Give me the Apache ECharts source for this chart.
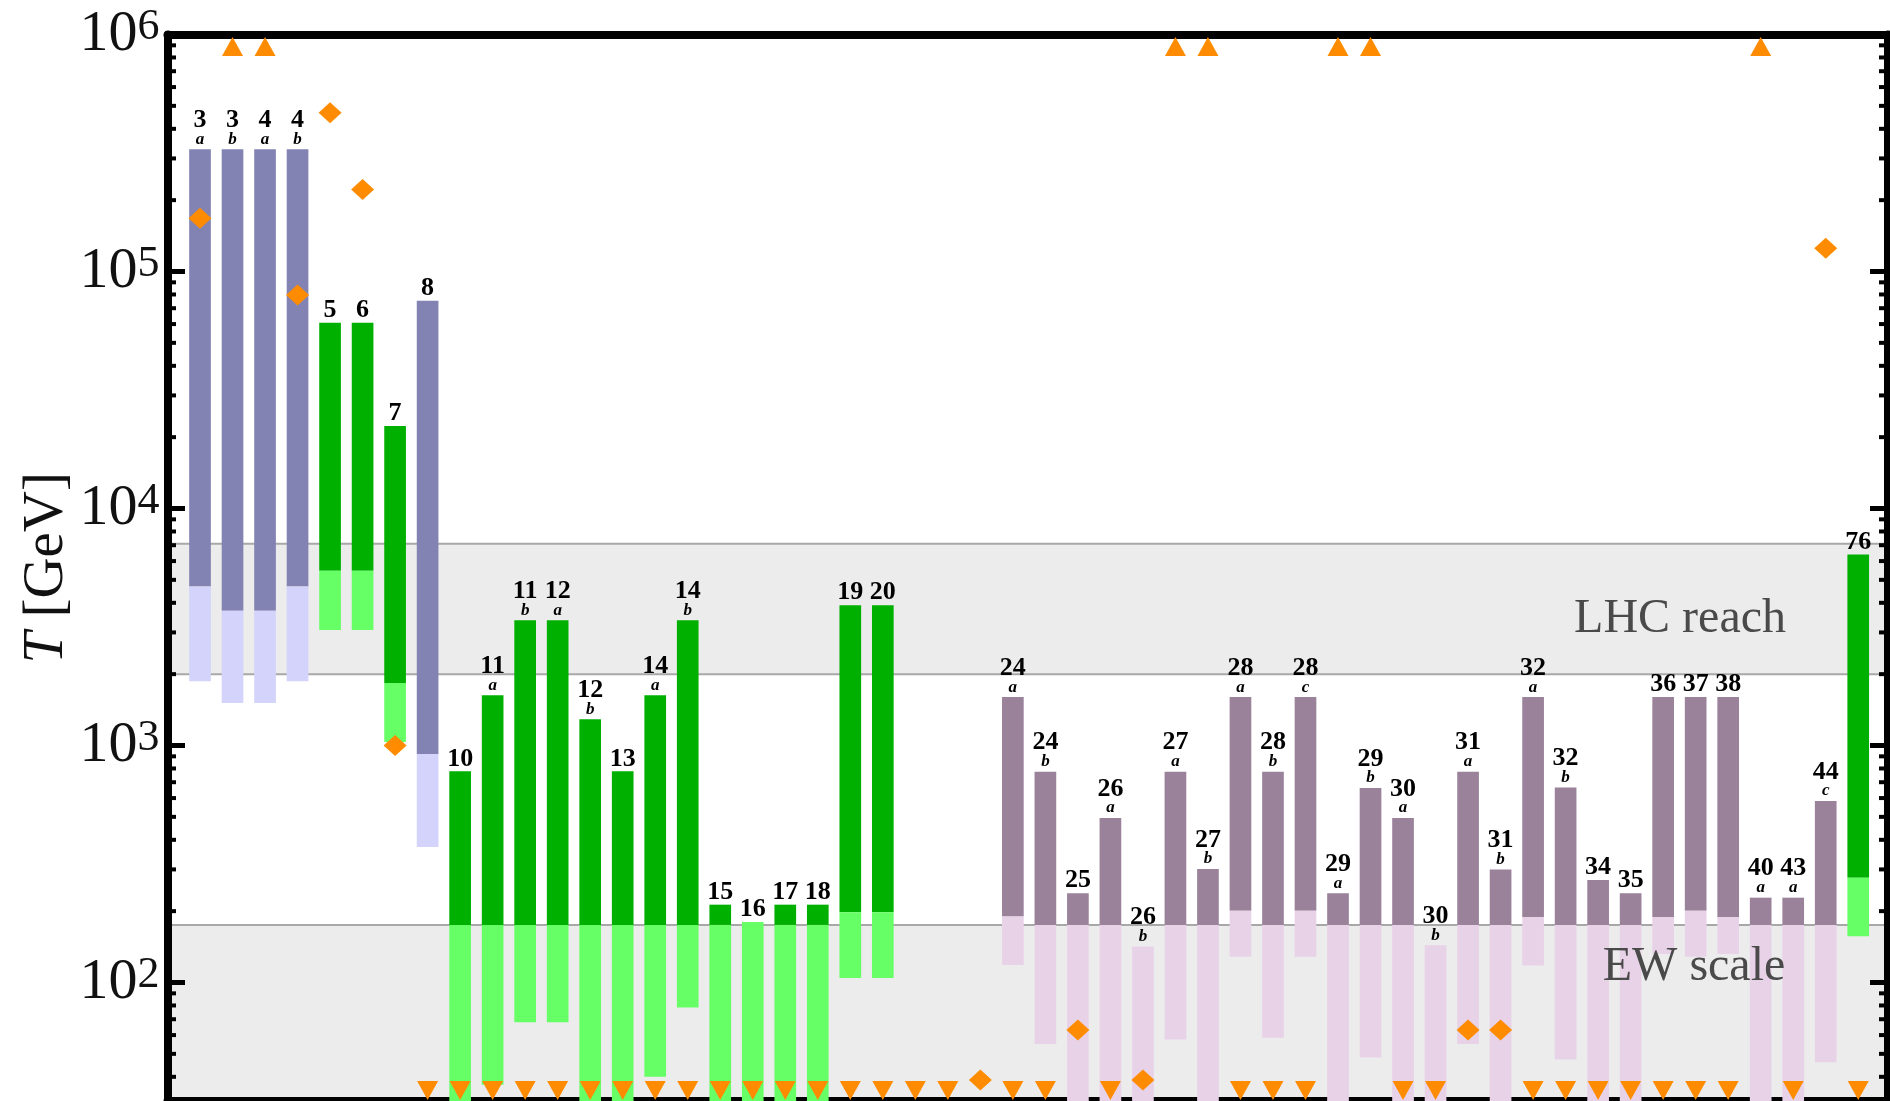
<!DOCTYPE html>
<html>
<head>
<meta charset="utf-8">
<script src="https://cdn.jsdelivr.net/npm/echarts@6/dist/echarts.min.js"></script>
<style>
  html, body { margin: 0; padding: 0; background: #ffffff; }
  #chart { width: 1890px; height: 1101px; }
</style>
</head>
<body>
<div id="chart"></div>
<script>
// ---- Model columns (one entry per slot, slots 23-25 carry markers only) ----
const modelNumbers = ['3','3','4','4','5','6','7','8','10','11','11','12','12','13','14','14','15','16','17','18','19','20',
  '','','','24','24','25','26','26','27','27','28','28','28','29','29','30','30','31','31','32','32','34','35','36','37','38','40','43','44','76'];
const modelVariants = ['a','b','a','b','','','','','','a','b','a','b','','a','b','','','','','','',
  '','','','a','b','','a','b','a','b','a','b','c','a','b','a','b','a','b','a','b','','','','','','a','a','c',''];
const modelFamily = ['B','B','B','B','G','G','G','B','G','G','G','G','G','G','G','G','G','G','G','G','G','G',
  '','','','P','P','P','P','P','P','P','P','P','P','P','P','P','P','P','P','P','P','P','P','P','P','P','P','P','P','G'];

// Upper end of each bar, dark/light boundary, lower end of light part [GeV]
const tUpper = [328000,328000,328000,328000,60800,60800,22300,75300,778,1630,3380,3380,1290,778,1630,3380,213,180,213,213,3910,3910,
  null,null,null,1600,775,238,494,142,775,301,1600,775,1600,238,662,494,143.6,775,300,1600,665,271,238,1600,1600,1600,228,228,583,6400];
const tMiddle = [4690,3700,3700,4690,5460,5460,1836,920,175,175,175,175,175,175,175,175,175,180,175,175,198,198,
  null,null,null,190,175,175,175,142,175,175,201,175,201,175,175,175,143.6,175,175,189,175,175,175,189,201,189,175,175,175,277];
const tLower = [1866,1510,1510,1866,3070,3070,1035,373,30,37,68,68,30,30,40,78.5,30,30,30,30,104.5,104.5,
  null,null,null,118.5,55,30,30,30,57.5,30,128.5,58.5,128.5,30,48.3,30,30,55,30,118,47.3,30,30,132,128.5,132,30,30,46.1,156.7];

// Orange markers
const upArrowSlots = [2, 3, 31, 32, 36, 37, 49];
const upArrowValue = 890000;
const downArrowSlots = [8,9,10,11,12,13,14,15,16,17,18,19,20,21,22,23,24,26,27,29,33,34,35,38,39,42,43,44,45,46,47,48,50,52];
const downArrowValue = 35;
const diamondSlots = [1, 4, 5, 6, 7, 25, 28, 30, 40, 41, 51];
const diamondValues = [167600, 79600, 468000, 222000, 1000, 38.8, 63, 38.8, 63, 63, 125300];

// Reference bands [lower, upper] in GeV
const ewBand = [10, 175];
const lhcBand = [2000, 7100];

// Axis ticks
const yMajorTicks = [100, 1000, 10000, 100000, 1000000];
const yMinorTicks = [40, 50, 60, 70, 80, 90,
  200, 300, 400, 500, 600, 700, 800, 900,
  2000, 3000, 4000, 5000, 6000, 7000, 8000, 9000,
  20000, 30000, 40000, 50000, 60000, 70000, 80000, 90000,
  200000, 300000, 400000, 500000, 600000, 700000, 800000, 900000];

const YMIN = Math.pow(10, 1.5);
const YMAX = 1e6;
const XMIN = 0;
const XMAX = 52.9;

const familyColors = {
  B: ['#8383B3', '#D3D3FB'],
  G: ['#00B000', '#66FF66'],
  P: ['#9A829A', '#E8D2E8']
};
const ORANGE = '#FF8C00';
const SERIF = '"Liberation Serif", "Times New Roman", serif';

const barData = [];
for (let i = 0; i < tUpper.length; i++) {
  if (tUpper[i] == null) continue;
  barData.push([i + 1, tUpper[i], tMiddle[i], tLower[i], i]);
}

const chart = echarts.init(document.getElementById('chart'), null, { renderer: 'canvas' });

function frameAxis(extra) {
  return Object.assign({
    axisLine: { show: true, onZero: false, lineStyle: { color: '#000', width: 8 } },
    axisTick: { show: false },
    axisLabel: { show: false },
    splitLine: { show: false },
    z: 1
  }, extra);
}

const markerStyle = { color: ORANGE, opacity: 1 };

const option = {
  animation: false,
  backgroundColor: '#ffffff',
  grid: { left: 167.5, top: 34.5, right: 2.5, bottom: 0, containLabel: false, outerBoundsMode: 'none' },
  xAxis: [
    frameAxis({ type: 'value', min: XMIN, max: XMAX, position: 'bottom' }),
    frameAxis({ type: 'value', min: XMIN, max: XMAX, position: 'top' })
  ],
  yAxis: [
    frameAxis({
      type: 'log', logBase: 10, min: YMIN, max: YMAX, position: 'left',
      axisLabel: {
        show: true,
        margin: 8,
        formatter: function (v) {
          const e = Math.log10(v);
          const k = Math.round(e);
          if (Math.abs(e - k) > 1e-6) return '';
          return '{b|10}{s|' + k + '}';
        },
        rich: {
          b: { fontFamily: SERIF, fontSize: 58, color: '#111', lineHeight: 58 },
          s: { fontFamily: SERIF, fontSize: 44, color: '#111', verticalAlign: 'top', lineHeight: 44 }
        }
      },
      name: '{it|T} [GeV]',
      nameLocation: 'middle',
      nameRotate: 90,
      nameGap: 92,
      nameMoveOverlap: false,
      nameTextStyle: {
        fontFamily: SERIF, fontSize: 57, color: '#111',
        rich: { it: { fontFamily: SERIF, fontSize: 57, fontStyle: 'italic', color: '#111' } }
      }
    }),
    frameAxis({ type: 'log', logBase: 10, min: YMIN, max: YMAX, position: 'right' })
  ],
  series: [
    {
      // shaded reference bands
      type: 'custom',
      name: 'bands',
      z: 0,
      silent: true,
      data: [[0, ewBand[0], ewBand[1]], [0, lhcBand[0], lhcBand[1]]],
      renderItem: function (params, api) {
        const cs = params.coordSys;
        const yLo = Math.min(api.coord([0, api.value(1)])[1], cs.y + cs.height);
        const yHi = api.coord([0, api.value(2)])[1];
        const x0 = cs.x, x1 = cs.x + cs.width;
        return {
          type: 'group',
          children: [
            { type: 'rect', shape: { x: x0, y: yHi, width: cs.width, height: yLo - yHi }, style: { fill: '#ECECEC' } },
            { type: 'line', shape: { x1: x0, y1: yHi, x2: x1, y2: yHi }, style: { stroke: '#A8A8A8', lineWidth: 2 } },
            { type: 'line', shape: { x1: x0, y1: yLo, x2: x1, y2: yLo }, style: { stroke: '#A8A8A8', lineWidth: 2 } }
          ]
        };
      }
    },
    {
      // inward ticks on the left and right frame
      type: 'custom',
      name: 'ticks',
      z: 1.5,
      silent: true,
      data: yMajorTicks.map(v => [0, v, 1]).concat(yMinorTicks.map(v => [0, v, 0])),
      renderItem: function (params, api) {
        const cs = params.coordSys;
        const y = api.coord([0, api.value(1)])[1];
        const major = api.value(2) === 1;
        const len = major ? 17.5 : 8.5;
        const lw = major ? 5 : 4;
        const xl = cs.x, xr = cs.x + cs.width;
        return {
          type: 'group',
          children: [
            { type: 'line', shape: { x1: xl, y1: y, x2: xl + len, y2: y }, style: { stroke: '#000', lineWidth: lw } },
            { type: 'line', shape: { x1: xr - len, y1: y, x2: xr, y2: y }, style: { stroke: '#000', lineWidth: lw } }
          ]
        };
      }
    },
    {
      // model bars with their labels
      type: 'custom',
      name: 'models',
      z: 2,
      silent: true,
      data: barData,
      renderItem: function (params, api) {
        const slot = api.value(0);
        const idx = api.value(4);
        const w = api.size([2 / 3, 0])[0];
        const pTop = api.coord([slot, api.value(1)]);
        const pMid = api.coord([slot, api.value(2)]);
        const pLow = api.coord([slot, api.value(3)]);
        const cols = familyColors[modelFamily[idx]];
        const x = pTop[0] - w / 2;
        const children = [];
        if (pMid[1] - pTop[1] > 0.5) {
          children.push({ type: 'rect', shape: { x: x, y: pTop[1], width: w, height: pMid[1] - pTop[1] }, style: { fill: cols[0] } });
        }
        children.push({ type: 'rect', shape: { x: x, y: pMid[1], width: w, height: pLow[1] - pMid[1] }, style: { fill: cols[1] } });
        const variant = modelVariants[idx];
        if (variant) {
          children.push({
            type: 'text', z2: 5,
            style: {
              text: variant, x: pTop[0], y: pTop[1] - 1.5,
              font: 'italic bold 17px ' + SERIF, fill: '#000',
              align: 'center', verticalAlign: 'bottom', textAlign: 'center', textVerticalAlign: 'bottom'
            }
          });
        }
        children.push({
          type: 'text', z2: 5,
          style: {
            text: modelNumbers[idx], x: pTop[0], y: variant ? pTop[1] - 16 : pTop[1] + 0.5,
            font: 'bold 26px ' + SERIF, fill: '#000',
            align: 'center', verticalAlign: 'bottom', textAlign: 'center', textVerticalAlign: 'bottom'
          }
        });
        return { type: 'group', children: children };
      }
    },
    {
      type: 'scatter',
      name: 'above range',
      z: 3,
      silent: true,
      symbol: 'triangle',
      symbolSize: [21, 19],
      itemStyle: markerStyle,
      emphasis: { disabled: true },
      data: upArrowSlots.map(s => [s, upArrowValue])
    },
    {
      type: 'scatter',
      name: 'below range',
      z: 3,
      silent: true,
      symbol: 'triangle',
      symbolRotate: 180,
      symbolSize: [21, 19],
      itemStyle: markerStyle,
      emphasis: { disabled: true },
      data: downArrowSlots.map(s => [s, downArrowValue])
    },
    {
      type: 'scatter',
      name: 'estimates',
      z: 3,
      silent: true,
      symbol: 'diamond',
      symbolSize: [23, 21],
      itemStyle: markerStyle,
      emphasis: { disabled: true },
      data: diamondSlots.map((s, i) => [s, diamondValues[i]])
    },
    {
      // band captions
      type: 'custom',
      name: 'captions',
      z: 4,
      silent: true,
      data: [[46.52, 3420, 0], [46.95, 116, 1]],
      renderItem: function (params, api) {
        const p = api.coord([api.value(0), api.value(1)]);
        const txt = ['LHC reach', 'EW scale'][api.value(2)];
        return {
          type: 'text',
          style: {
            text: txt, x: p[0], y: p[1],
            font: '48px ' + SERIF, fill: '#4A4A4A',
            align: 'center', verticalAlign: 'middle', textAlign: 'center', textVerticalAlign: 'middle'
          }
        };
      }
    }
  ]
};

chart.setOption(option);
</script>
</body>
</html>
